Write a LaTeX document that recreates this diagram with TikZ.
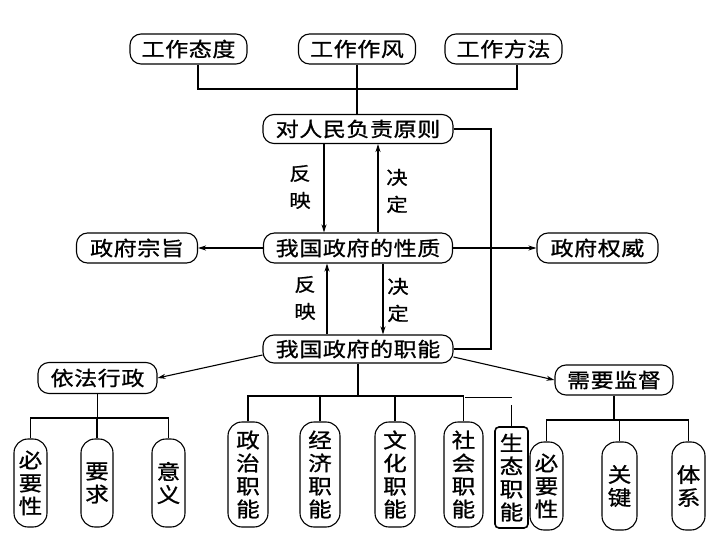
\documentclass[tikz,border=0pt]{standalone}
\usepackage{fontspec}
\newfontfamily\cjk[FakeStretch=1.15,LetterSpace=3,FakeBold=1]{Noto Sans CJK SC}
\usetikzlibrary{arrows.meta}
\begin{document}
\begin{tikzpicture}[x=1pt,y=-1pt,
  hbox/.style={draw, line width=1.1pt, rounded corners=11pt, inner sep=0pt, minimum height=30pt, font=\cjk\fontsize{20}{23}\selectfont},
  vbox/.style={draw, line width=1.1pt, rounded corners=14pt, inner sep=0pt, align=center, font=\cjk\fontsize{20.5}{23}\selectfont},
  conn/.style={line width=1.1pt},
  arr/.style={line width=1.1pt, -{Stealth[length=8pt,width=5pt]}},
  lbl/.style={align=center, font=\cjk\fontsize{18.5}{27}\selectfont}]
\useasboundingbox (0,0) rectangle (716,538);

% top row
\node[hbox, minimum width=117pt] (t1) at (188.5,49) {工作态度};
\node[hbox, minimum width=117pt] (t2) at (357,49) {工作作风};
\node[hbox, minimum width=117pt] (t3) at (503.5,49) {工作方法};

\node[hbox, minimum width=190pt, minimum height=29pt] (p) at (358,129) {对人民负责原则};
\node[hbox, minimum width=189pt] (xz) at (358,248) {我国政府的性质};
\node[hbox, minimum width=121pt] (zz) at (137,248) {政府宗旨};
\node[hbox, minimum width=121pt] (qw) at (597.5,248) {政府权威};
\node[hbox, minimum width=190pt, minimum height=28pt] (zn) at (358,349) {我国政府的职能};
\node[hbox, minimum width=119pt, minimum height=31pt] (yf) at (97.5,378) {依法行政};
\node[hbox, minimum width=118pt] (jd) at (614,380) {需要监督};

% left children
\node[vbox, minimum width=33pt, minimum height=88pt] (l1) at (30.5,483) {必\\要\\性};
\node[vbox, minimum width=32pt, minimum height=88pt] (l2) at (97,483) {要\\求};
\node[vbox, minimum width=33pt, minimum height=88pt] (l3) at (168.5,483) {意\\义};

% middle children
\node[vbox, minimum width=40pt, minimum height=105pt] (m1) at (248,474.5) {政\\治\\职\\能};
\node[vbox, minimum width=40pt, minimum height=105pt] (m2) at (320,474.5) {经\\济\\职\\能};
\node[vbox, minimum width=40pt, minimum height=105pt] (m3) at (395,474.5) {文\\化\\职\\能};
\node[vbox, minimum width=39pt, minimum height=105pt] (m4) at (463.5,474.5) {社\\会\\职\\能};
\node[vbox, minimum width=33pt, minimum height=101pt, rounded corners=4pt, line width=1.6pt] (m5) at (511.5,477.5) {生\\态\\职\\能};

% right children
\node[vbox, minimum width=33pt, minimum height=88pt] (r1) at (546.5,486) {必\\要\\性};
\node[vbox, minimum width=35pt, minimum height=88pt] (r2) at (619.5,486) {关\\键};
\node[vbox, minimum width=33pt, minimum height=88pt] (r3) at (688.5,486) {体\\系};

% top connectors
\draw[conn] (t1.south -| 198,0) -- (198,89) -- (517,89) -- (t3.south -| 517,0);
\draw[conn] (t2.south) -- (t2.south |- p.north);

% right loop
\coordinate (rv) at (491,240);
\draw[conn] (p.east) -| (rv) |- (zn.east);

% arrows between principle and nature
\draw[arr] (p.south -| 324,0) -- (xz.north -| 324,0);
\draw[arr] (xz.north -| 378,0) -- (p.south -| 378,0);
\node[lbl] (f1) at (300,187) {反\\映};
\node[lbl] (d1) at (397,191) {决\\定};

\draw[arr] (xz.west) -- (zz.east);
\draw[arr] (xz.east) -- (qw.west);

% arrows between nature and functions
\draw[arr] (zn.north -| 327,0) -- (xz.south -| 327,0);
\draw[arr] (xz.south -| 383,0) -- (zn.north -| 383,0);
\node[lbl] (f2) at (305,298) {反\\映};
\node[lbl] (d2) at (398,300) {决\\定};

\draw[arr] ([yshift=-6pt]zn.west) -- (yf.east);
\draw[arr] ([yshift=-8pt]zn.east) -- (jd.west);

% left tree
\coordinate (hL) at (0,418);
\draw[conn] (yf.south) -- (yf.south |- hL);
\draw[conn] (l1.north) |- (l3.north |- hL) -- (l3.north);
\draw[conn] (l2.north) -- (l2.north |- hL);

% middle tree
\coordinate (hM) at (0,396);
\draw[conn] (zn.south) -- (zn.south |- hM);
\draw[conn] (m1.north) |- (m4.north |- hM) -- (m4.north);
\draw[conn] (m2.north) -- (m2.north |- hM);
\draw[conn] (m3.north) -- (m3.north |- hM);
\coordinate (g1) at (465,397.5);
\coordinate (g2) at (512,397.5);
\draw[conn] (g1) -- (g2);
\draw[conn] (m5.north) -- (m5.north |- 0,405);

% right tree
\coordinate (hR) at (0,420);
\draw[conn] (jd.south) -- (jd.south |- hR);
\draw[conn] (r1.north) |- (r3.north |- hR) -- (r3.north);
\draw[conn] (r2.north) -- (r2.north |- hR);
\end{tikzpicture}
\end{document}
